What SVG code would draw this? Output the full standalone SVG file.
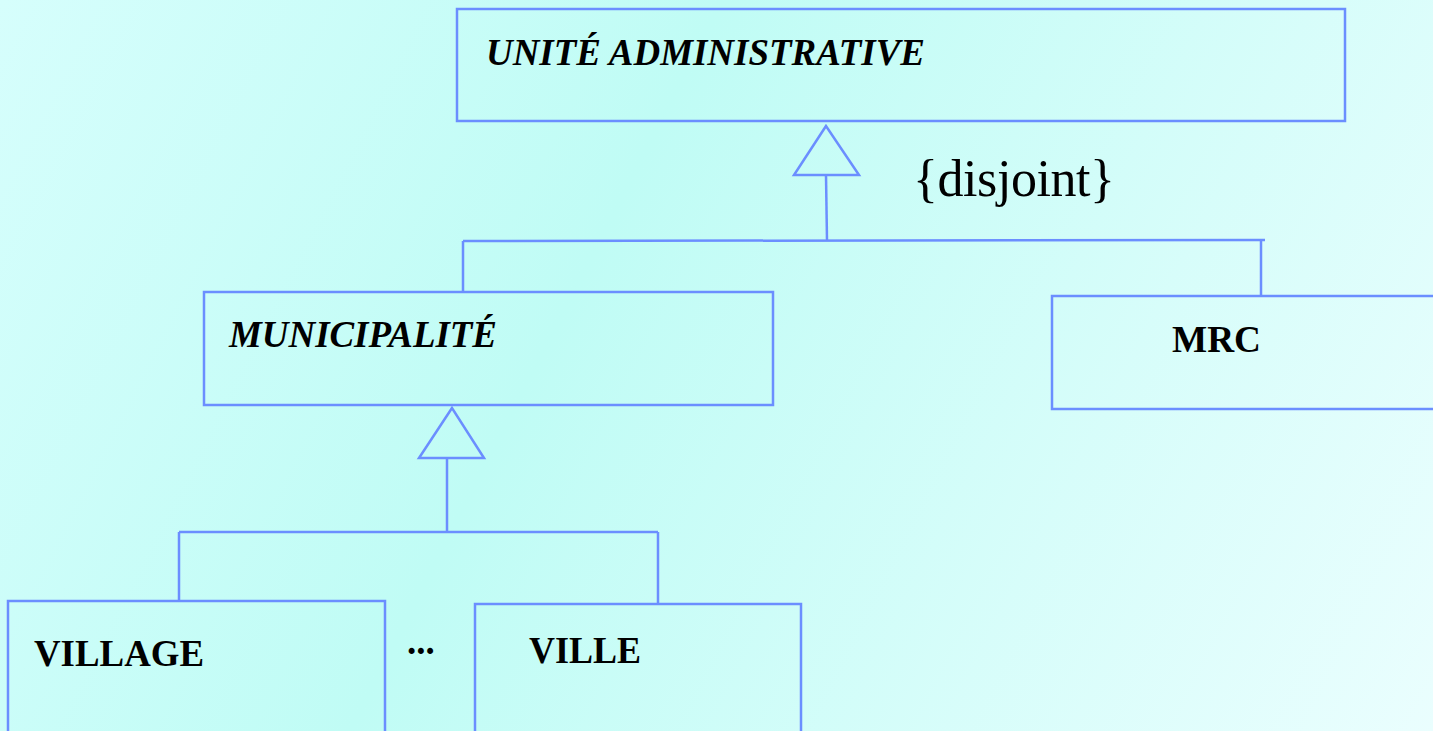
<svg xmlns="http://www.w3.org/2000/svg" width="1433" height="731" viewBox="0 0 1433 731">
<defs>
<linearGradient id="bg" x1="0" y1="0" x2="1433" y2="731" gradientUnits="userSpaceOnUse">
<stop offset="0" stop-color="#d6fefc"/>
<stop offset="0.4" stop-color="#c0fcf5"/>
<stop offset="1" stop-color="#eafefe"/>
</linearGradient>
<style>
.box{fill:none;stroke:#6b8eff;stroke-width:2.5}
.ln{fill:none;stroke:#6b8eff;stroke-width:2.5}
.tri{fill:none;stroke:#6b8eff;stroke-width:2.5;stroke-linejoin:miter}
.it{font-family:"Liberation Serif","Times New Roman",serif;font-weight:bold;font-style:italic;font-size:37px;fill:#000}
.bd{font-family:"Liberation Serif","Times New Roman",serif;font-weight:bold;font-size:37px;fill:#000}
.rg{font-family:"Liberation Serif","Times New Roman",serif;font-size:52px;fill:#000}
</style>
</defs>
<rect x="0" y="0" width="1433" height="731" fill="url(#bg)"/>
<g id="connectors">
<polygon class="tri" points="826,126 794,175 859,175"/>
<line class="ln" x1="826" y1="175" x2="827" y2="241"/>
<line class="ln" x1="463" y1="241" x2="1265" y2="240"/>
<line class="ln" x1="463" y1="241" x2="463" y2="292"/>
<line class="ln" x1="1261" y1="240" x2="1261" y2="297"/>
<polygon class="tri" points="452,408 419,458 484,458"/>
<line class="ln" x1="447" y1="458" x2="447" y2="532"/>
<line class="ln" x1="179" y1="532" x2="658" y2="532"/>
<line class="ln" x1="179" y1="532" x2="179" y2="601"/>
<line class="ln" x1="658" y1="532" x2="658" y2="605"/>
<text class="rg" x="913" y="196" textLength="202" lengthAdjust="spacing">{disjoint}</text>
</g>
<g id="unite">
<rect class="box" x="457" y="9" width="888" height="112"/>
<text class="it" x="486" y="65" textLength="439" lengthAdjust="spacingAndGlyphs">UNITÉ ADMINISTRATIVE</text>
</g>
<g id="municipalite">
<rect class="box" x="204" y="292" width="569" height="113"/>
<text class="it" x="229" y="347" textLength="268" lengthAdjust="spacingAndGlyphs">MUNICIPALITÉ</text>
</g>
<g id="mrc">
<rect class="box" x="1052" y="296" width="390" height="113"/>
<text class="bd" x="1172" y="352" textLength="89" lengthAdjust="spacingAndGlyphs">MRC</text>
</g>
<g id="village">
<rect class="box" x="8" y="601" width="377" height="140"/>
<text class="bd" x="34" y="666" textLength="170" lengthAdjust="spacingAndGlyphs">VILLAGE</text>
</g>
<g id="ellipsis">
<text class="bd" x="407" y="654" font-size="28">...</text>
</g>
<g id="ville">
<rect class="box" x="475" y="604" width="326" height="140"/>
<text class="bd" x="529" y="663" textLength="112" lengthAdjust="spacingAndGlyphs">VILLE</text>
</g>
</svg>
